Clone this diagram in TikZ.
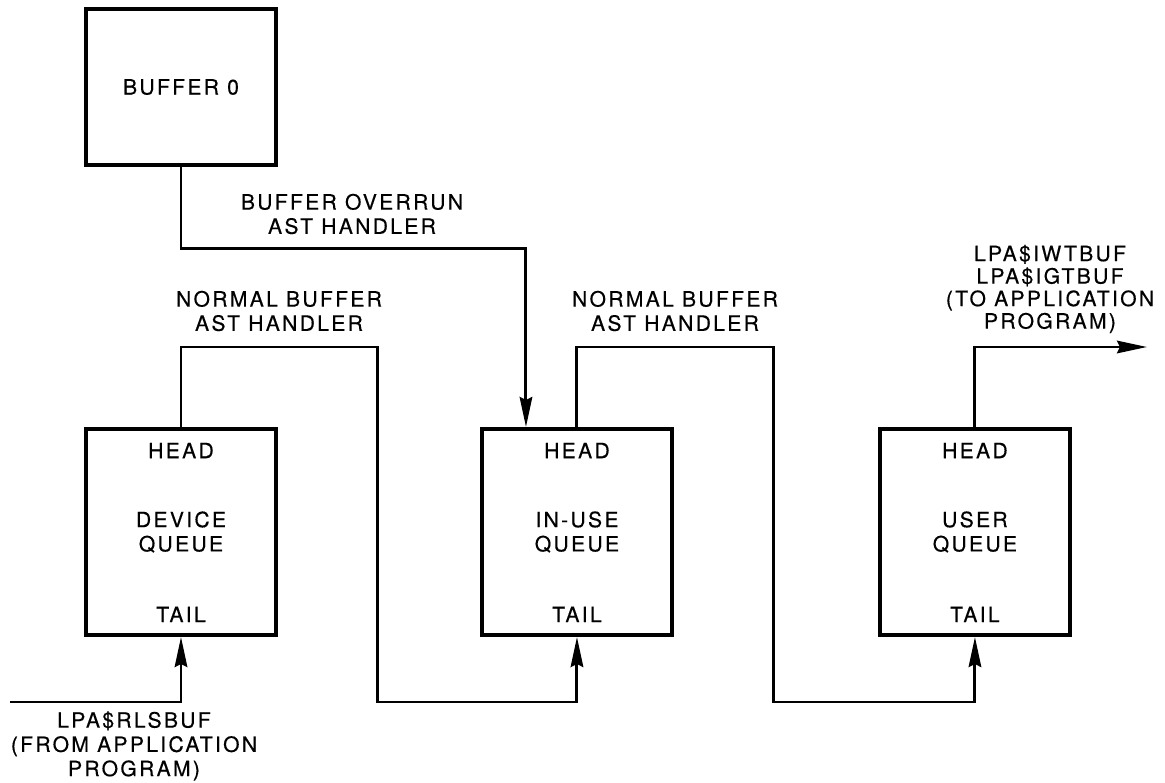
\documentclass[tikz,border=0pt]{standalone}
\usepackage{fontspec}
\setmainfont{TeX Gyre Heros}[LetterSpace=11, FakeBold=0.4]
\usetikzlibrary{positioning, arrows.meta, calc}

\begin{document}
\begin{tikzpicture}[
        x=0.02cm, y=-0.02cm,
        font=\fontsize{12}{13.8}\selectfont,
        box/.style={rectangle, draw, line width=2.3pt, minimum width=3.8cm,
                    minimum height=4.12cm, align=center, inner sep=0pt},
        bufbox/.style={box, minimum height=3.12cm},
        tag/.style={inner sep=0pt},
        note/.style={align=center, inner sep=0pt},
        arrow/.style={-{Stealth[length=6mm, width=2.5mm, inset=0.6mm]}, line width=1.7pt}
      ]
        \useasboundingbox (0,0) rectangle (1165,783);

        \node[box] (dev) at (181,532) {DEVICE\\QUEUE};
        \node[box, right=4.04cm of dev] (use) {IN-USE\\QUEUE};
        \node[box, right=4.08cm of use] (usr) {USER\\QUEUE};
        \node[bufbox, above=5.2cm of dev] (buf) {BUFFER 0};

        \foreach \q in {dev,use,usr} {
          \node[tag, below=0.31cm of \q.north] (\q head) {HEAD};
          \node[tag, above=0.29cm of \q.south] (\q tail) {TAIL};
        }

        \coordinate (rail) at (0,347);
        \coordinate (drop1) at (377,702);
        \coordinate (drop2) at (773,702);
        \coordinate (src) at (10,702);
        \coordinate (dst) at (1147,347);

        \draw[arrow] (src) -| (dev.south);
        \draw[arrow] (dev.north) |- (drop1 |- rail) -- (drop1) -| (use.south);
        \draw[arrow] (use.north) |- (drop2 |- rail) -- (drop2) -| (usr.south);
        \draw[arrow] (usr.north) |- (dst);
        \draw[arrow] (buf.south) -- ++(0,81) -| ($(use.north)+(-51,0)$);

        \node[note] (ovr) at (352,214) {BUFFER OVERRUN\\AST HANDLER};
        \node[note] (nb1) at (279,311) {NORMAL BUFFER\\AST HANDLER};
        \node[note] (nb2) at (675,311) {NORMAL BUFFER\\AST HANDLER};
        \node[note, font=\fontsize{12}{12.8}\selectfont] (out) at (1050,289)
          {LPA\$IWTBUF\\LPA\$IGTBUF\\(TO APPLICATION\\PROGRAM)};
        \node[note] (rls) at (134,746) {LPA\$RLSBUF\\(FROM APPLICATION\\PROGRAM)};
      \end{tikzpicture}
\end{document}
